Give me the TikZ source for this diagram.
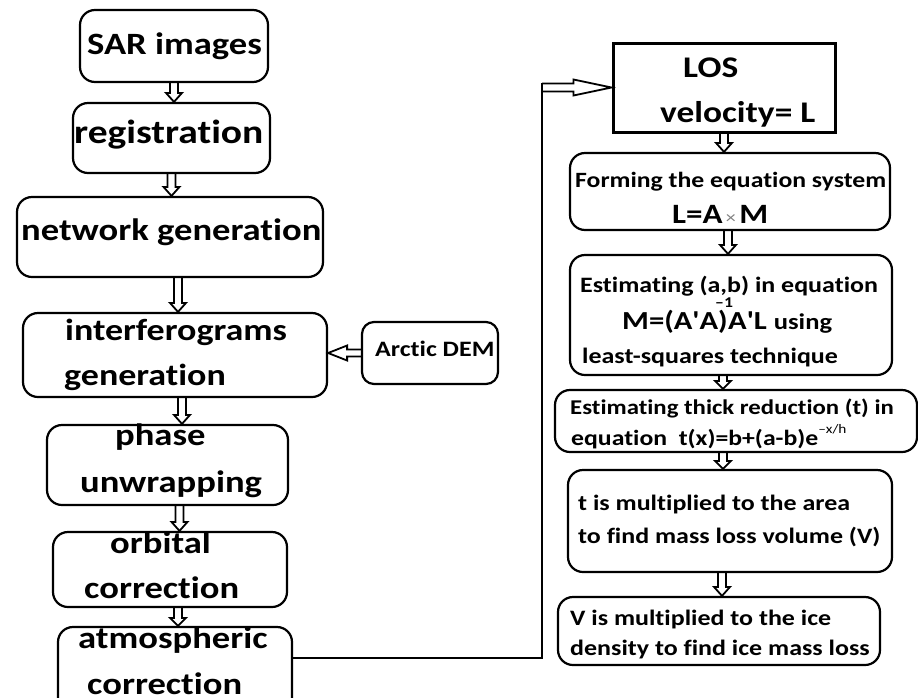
\documentclass[tikz,border=0pt]{standalone}
\usepackage{fontspec}
\usepackage{graphicx}
\setmainfont{Carlito}[Ligatures={TeX,NoCommon,NoContextual}, Contextuals=NoAlternate]
\usetikzlibrary{calc}

% horizontal stretch of all lettering
\newcommand{\sx}[1]{\scalebox{1.18}[1]{#1}}
\newcommand{\fsz}[1]{\fontsize{#1}{#1}\selectfont}
\newcommand{\q}{\textquotesingle}
% plain t + i, kept apart so the font draws no joined glyph
\newcommand{\tii}{t\kern0pt i}

\tikzset{
  rbox/.style={draw, line width=2.2pt, rounded corners=15pt, inner sep=0pt},
  sbox/.style={draw, line width=3pt, inner sep=0pt},
  lbl/.style={anchor=base west, inner sep=0pt, font=\bfseries},
  conn/.style={line width=2.2pt},
  arrowline/.style={line width=1.8pt, line join=miter},
}

% hollow block arrow: [head length]{from}{to}{shaft half width}{head half width}
\newcommand{\hollowarrow}[5][9pt]{%
  \coordinate (ha-a) at (#2);
  \coordinate (ha-b) at (#3);
  \coordinate (ha-h) at ($(ha-b)!#1!(ha-a)$);
  \draw[arrowline]
    ($(ha-a)!#4!90:(ha-b)$) -- ($(ha-h)!#4!90:(ha-b)$) -- ($(ha-h)!#5!90:(ha-b)$)
    -- (ha-b) --
    ($(ha-h)!#5!-90:(ha-b)$) -- ($(ha-h)!#4!-90:(ha-b)$) -- ($(ha-a)!#4!-90:(ha-b)$);
}

\begin{document}
\begin{tikzpicture}[x=1pt, y=-1pt]
\useasboundingbox (0,0) rectangle (918,697);
\clip (0,0) rectangle (918,697);

% ---- left column ----
\node[rbox, minimum width=188pt, minimum height=72pt] (sar)    at (174,46)    {};
\node[rbox, minimum width=197pt, minimum height=70pt] (reg)    at (171.5,138) {};
\node[rbox, minimum width=306pt, minimum height=80pt] (net)    at (170,237)   {};
\node[rbox, minimum width=304pt, minimum height=84pt] (interf) at (175,355)   {};
\node[rbox, rounded corners=12pt, minimum width=136pt, minimum height=62pt] (dem) at (430,353) {};
\node[rbox, minimum width=241pt, minimum height=80pt] (phase)  at (167.5,465) {};
\node[rbox, minimum width=234pt, minimum height=75pt] (orb)    at (170,569.5) {};
\node[rbox, minimum width=234pt, minimum height=85pt] (atm)    at (175,669.5) {};

% ---- right column ----
\node[sbox, minimum width=222pt, minimum height=89pt] (los)  at (724,87.5) {};
\node[rbox, minimum width=320pt, minimum height=77pt]  (form) at (730,191.5) {};
\node[rbox, minimum width=322pt, minimum height=120pt] (est1) at (731,315) {};
\node[rbox, minimum width=362pt, minimum height=62pt]  (est2) at (736,421) {};
\node[rbox, minimum width=324pt, minimum height=102pt] (tbox) at (730,521) {};
\node[rbox, minimum width=322pt, minimum height=68pt]  (vbox) at (719,631) {};

% ---- lettering ----
\node[lbl] (t-sar)  at (87,54)   {\fsz{31}\sx{SAR images}};
\node[lbl] (t-reg)  at (74,143)  {\fsz{33.5}\sx{registra\tii{}on}};
\node[lbl] (t-net)  at (21,240)  {\fsz{31}\sx{network genera\tii{}on}};
\node[lbl] (t-if1)  at (65,340)  {\fsz{30.5}\sx{interferograms}};
\node[lbl] (t-if2)  at (64,385)  {\fsz{30.5}\sx{genera\tii{}on}};
\node[lbl] (t-dem)  at (375,356) {\fsz{22}\sx{Arc\tii{}c DEM}};
\node[lbl] (t-ph1)  at (115,445) {\fsz{31}\sx{phase}};
\node[lbl] (t-ph2)  at (80,492)  {\fsz{31}\sx{unwrapping}};
\node[lbl] (t-or1)  at (110,553) {\fsz{31}\sx{orbital}};
\node[lbl] (t-or2)  at (84,598)  {\fsz{31}\sx{correc\tii{}on}};
\node[lbl] (t-at1)  at (78,648)  {\fsz{31}\sx{atmospheric}};
\node[lbl] (t-at2)  at (87,694)  {\fsz{31}\sx{correc\tii{}on}};

\node[lbl] (t-los1) at (683,77)  {\fsz{30}\sx{LOS}};
\node[lbl] (t-los2) at (660,122) {\fsz{30}\sx{velocity= L}};
\node[lbl] (t-fo1)  at (575,187) {\fsz{21.8}\sx{Forming the equa\tii{}on system}};
\node[lbl] (t-fo2)  at (672,223) {\fsz{28}\sx{L=A{\mdseries\fsz{17}\color{gray}\,×\,}M}};
\node[lbl] (t-e11)  at (580,292) {\fsz{22}\sx{Es\tii{}ma\tii{}ng (a,b) in equa\tii{}on}};
\node[lbl] (t-e12)  at (622,329) {\fsz{26}\sx{M=(A\q A)}};
\node[lbl] (t-e1s)  at (715,307) {\fsz{15}\sx{–1}};
\node[lbl] (t-e13)  at (728,329) {\fsz{26}\sx{A\q L {\fsz{22.5}using}}};
\node[lbl] (t-e14)  at (582,363) {\fsz{22}\sx{least-squares technique}};
\node[lbl] (t-e21)  at (570,414) {\fsz{21}\sx{Es\tii{}ma\tii{}ng thick reduc\tii{}on (t) in}};
\node[lbl] (t-e22)  at (571,445) {\fsz{21.8}\sx{equa\tii{}on\ \ t(x)=b+(a-b)e{\mdseries\fsz{13}\raisebox{12pt}{–x/h}}}};
\node[lbl] (t-t1)   at (578,510) {\fsz{22}\sx{t is mul\tii{}plied to the area}};
\node[lbl] (t-t2)   at (578,543) {\fsz{22}\sx{to find mass loss volume (V)}};
\node[lbl] (t-v1)   at (570,625) {\fsz{22}\sx{V is mul\tii{}plied to the ice}};
\node[lbl] (t-v2)   at (570,655) {\fsz{22}\sx{density to find ice mass loss}};

% ---- hollow arrows, left column ----
\hollowarrow{sar.south}{sar.south |- reg.north}{4pt}{8pt}
\hollowarrow{reg.south}{reg.south |- net.north}{4pt}{8pt}
\hollowarrow{$(net.south)+(8,0)$}{ha-a |- interf.north}{4pt}{8pt}
\hollowarrow{$(interf.south)+(7,0)$}{ha-a |- phase.north}{4pt}{8pt}
\hollowarrow{$(phase.south)+(12,0)$}{ha-a |- orb.north}{4pt}{8pt}
\hollowarrow[8pt]{$(orb.south)+(8,0)$}{ha-a |- atm.north}{4pt}{8pt}
\hollowarrow[19pt]{dem.west}{dem.west -| interf.east}{3.5pt}{7.5pt}

% ---- link from the left column to the right column ----
\coordinate (bend-lo) at (542,658);
\draw[conn] (atm.east |- bend-lo) -- (bend-lo) -- ($(bend-lo |- los.west)+(0,-4.5)$);
\hollowarrow[38pt]{bend-lo |- los.west}{los.west}{4pt}{8pt}

% ---- hollow arrows, right column ----
\hollowarrow{los.south}{los.south |- form.north}{4pt}{8pt}
\hollowarrow{$(form.south)+(-2,0)$}{ha-a |- est1.north}{4pt}{8pt}
\hollowarrow[8pt]{$(est1.south)+(-8,0)$}{ha-a |- est2.north}{4pt}{8pt}
\hollowarrow[8pt]{$(est2.south)+(-13,0)$}{ha-a |- tbox.north}{4pt}{8pt}
\hollowarrow{$(tbox.south)+(-8,0)$}{ha-a |- vbox.north}{4pt}{8pt}
\end{tikzpicture}
\end{document}
